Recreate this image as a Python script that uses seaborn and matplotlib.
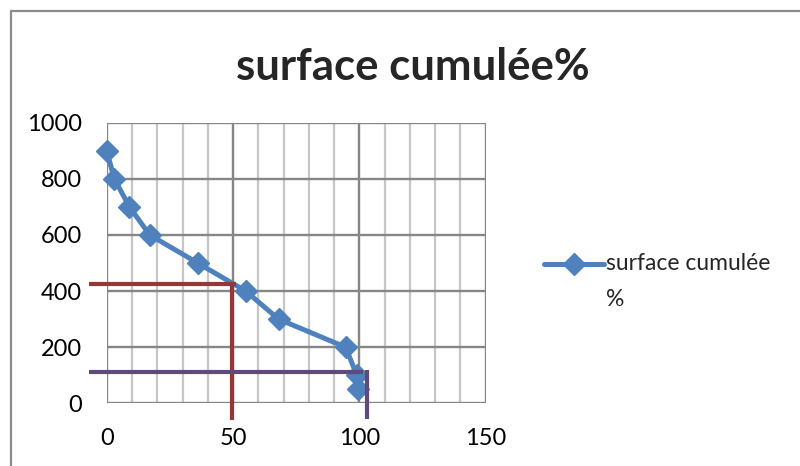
import matplotlib
matplotlib.use("Agg")
import matplotlib.pyplot as plt
from matplotlib.lines import Line2D
from matplotlib.legend_handler import HandlerLine2D
from matplotlib.transforms import Affine2D
import seaborn as sns
import pandas as pd

# data
surface_pct = [0, 3, 9, 17, 36, 55, 68, 94.5, 99, 99.5]
values = [900, 800, 700, 600, 500, 400, 300, 200, 100, 50]
series_name = "surface cumulée\n%"
title = "surface cumulée%"
x_ticks = [0, 50, 100, 150]
y_ticks = [0, 200, 400, 600, 800, 1000]
x_minor = list(range(0, 151, 10))

# reading guide lines (drawn shapes)
red_h_x = [-7, 51]
red_h_y = [424, 424]
red_v_x = [49.5, 49.5]
red_v_y = [424, -59]
purple_h_x = [-7, 101.5]
purple_h_y = [110, 110]
purple_v_x = [103, 103]
purple_v_y = [119, -56]

sns.set_style("white")
plt.rcParams['font.family'] = ['Lato', 'DejaVu Sans']

df = pd.DataFrame({"x": surface_pct, "y": values, "serie": series_name})

fig = plt.figure(figsize=(8, 4.66), dpi=100)
ax = fig.add_axes([0.1334, 0.1346, 0.4738, 0.6021])

grid_dark = "#868686"
grid_light = "#c6c6c6"

ax.set_xlim(0, 150)
ax.set_ylim(0, 1000)
ax.set_xticks(x_ticks)
ax.set_xticks(x_minor, minor=True)
ax.set_yticks(y_ticks)

for xv in x_minor:
    if xv not in x_ticks:
        ax.axvline(xv, color=grid_light, lw=1.6, zorder=0)
for xv in x_ticks:
    ax.axvline(xv, color=grid_dark, lw=1.7, zorder=0.5)
for yv in y_ticks:
    ax.axhline(yv, color=grid_dark, lw=1.7, zorder=0.5)

for s in ax.spines.values():
    s.set_visible(False)

ax.tick_params(axis="both", which="major", length=6, width=1.7, color=grid_dark,
               labelsize=17, pad=12, labelcolor="black")
ax.tick_params(axis="both", which="minor", length=0)

blue = "#4F81BD"
sns.lineplot(data=df, x="x", y="y", hue="serie", palette=[blue], sort=False,
             estimator=None, ax=ax, lw=3.6, marker="D", markersize=11,
             markeredgecolor=blue, markeredgewidth=1, zorder=3, clip_on=False)
ax.set_xlabel("")
ax.set_ylabel("")

red = "#953735"
purple = "#604A7B"
ax.plot(red_h_x, red_h_y, color=red, lw=3, clip_on=False, zorder=4, solid_capstyle="butt")
ax.plot(red_v_x, red_v_y, color=red, lw=3, clip_on=False, zorder=4, solid_capstyle="butt")
ax.plot(purple_h_x, purple_h_y, color=purple, lw=3, clip_on=False, zorder=4, solid_capstyle="butt")
ax.plot(purple_v_x, purple_v_y, color=purple, lw=3, clip_on=False, zorder=4, solid_capstyle="butt")


class TopAlignedHandler(HandlerLine2D):
    """Place the legend key level with the first line of a wrapped label."""
    def create_artists(self, legend, orig_handle, xdescent, ydescent,
                       width, height, fontsize, trans):
        arts = super().create_artists(legend, orig_handle, xdescent, ydescent,
                                      width, height, fontsize, trans)
        shifted = Affine2D().translate(0, 13.3) + trans
        for a in arts:
            a.set_transform(shifted)
        return arts


handles, labels = ax.get_legend_handles_labels()
leg = ax.legend(handles, labels, loc="center left", bbox_to_anchor=(1.1, 0.434),
                frameon=False, fontsize=16.5, handlelength=2.6, handletextpad=0.1,
                handler_map={h: TopAlignedHandler() for h in handles})
for h in leg.legend_handles:
    h.set_linewidth(3.6)
for t in leg.get_texts():
    t.set_linespacing(1.9)

fig.text(0.516, 0.857, title, ha="center", va="center", fontsize=31.5, fontweight="bold")

# outer chart frame
fig.add_artist(Line2D([11/800, 11/800], [0, 1 - 11/466], transform=fig.transFigure,
                      color="#8c8c8c", lw=1.6))
fig.add_artist(Line2D([11/800, 1], [1 - 11/466, 1 - 11/466], transform=fig.transFigure,
                      color="#8c8c8c", lw=1.6))

fig.savefig("out.png", dpi=100)
